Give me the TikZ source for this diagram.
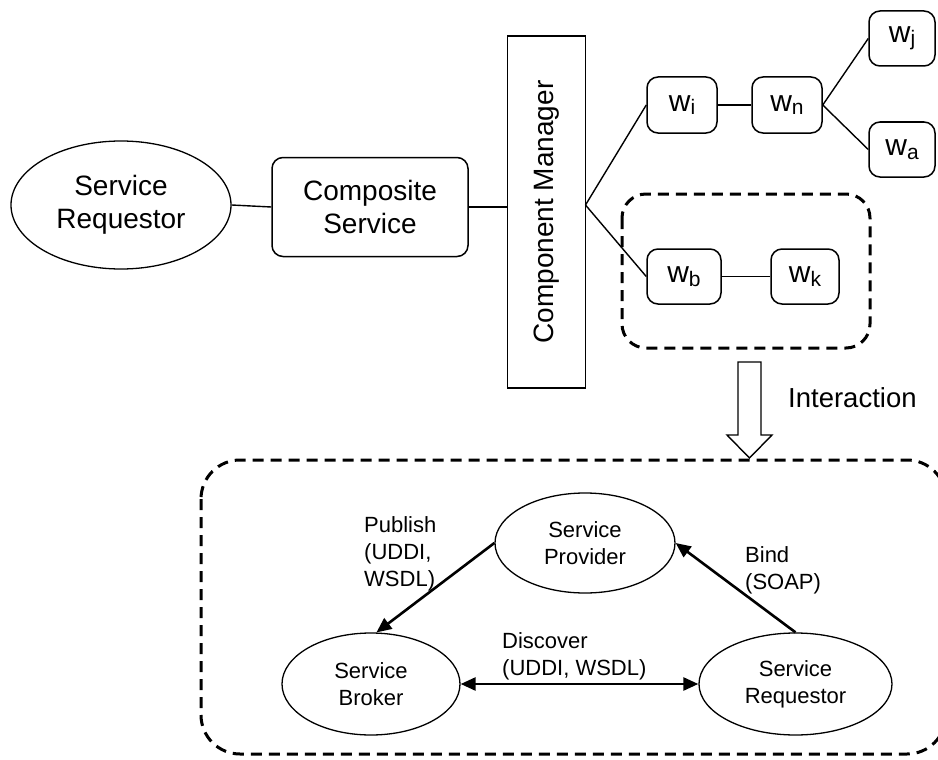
\documentclass[tikz,border=0pt]{standalone}
\usepackage{fontspec}
\setmainfont{Liberation Sans}
\usetikzlibrary{arrows.meta,shapes.geometric}

% w with a lowered subscript, as in the worker boxes
\newcommand{\wlabel}[1]{{\fontsize{30}{30}\selectfont w}\raisebox{-3.5pt}{\fontsize{21}{21}\selectfont #1}}

\tikzset{
  bigtext/.style={font=\fontsize{28}{33}\selectfont, align=center},
  smalltext/.style={font=\fontsize{22}{27}\selectfont},
  oval/.style={draw, ellipse, line width=1.3pt, inner sep=0pt, align=center},
  roundbox/.style={draw, rectangle, rounded corners=11pt, line width=1.5pt, inner sep=0pt},
  wbox/.style={roundbox, minimum height=55pt},
  link/.style={line width=1.4pt},
  group/.style={draw, line width=3pt, dash pattern=on 11pt off 7pt},
  flow/.style={line width=2.6pt, -{Triangle[length=15pt,width=13pt]}},
  flowboth/.style={line width=2.6pt, {Triangle[length=15pt,width=13pt]}-{Triangle[length=15pt,width=13pt]}},
  lbl/.style={smalltext, align=left, inner sep=0pt}
}

\begin{document}
\begin{tikzpicture}[x=1pt,y=-1pt]
\useasboundingbox[fill=white] (0,0) rectangle (938,760);

% --- upper part: requestor, composite service, component manager ---
\node[oval, bigtext, minimum width=220pt, minimum height=128pt] (sreq) at (121,205) {Service\\Requestor};
\node[roundbox, bigtext, minimum width=196pt, minimum height=99pt] (comp) at (370,207) {Composite\\Service};
\node[draw, rectangle, line width=1.6pt, minimum width=78pt, minimum height=352pt, inner sep=0pt] (cm) at (546.5,212) {};
\node[bigtext, rotate=90] (cmtext) at (cm.center) {Component Manager};

\draw[link] (sreq.east) -- (comp.west);
\draw[link] (comp.east) -- (cm.west |- comp.east);

% --- worker services ---
\node[wbox, minimum width=70pt, minimum height=56pt] (wi) at (682,105) {\wlabel{i}};
\node[wbox, minimum width=70pt, minimum height=56pt] (wn) at (787,105) {\wlabel{n}};
\node[wbox, minimum width=66pt] (wj) at (902,38.5) {\wlabel{j}};
\node[wbox, minimum width=66pt] (wa) at (902,149.5) {\wlabel{a}};
\node[wbox, minimum width=74pt] (wb) at (684,276.5) {\wlabel{b}};
\node[wbox, minimum width=68pt] (wk) at (805,276.5) {\wlabel{k}};

\coordinate (cmr) at (585.5,205);
\draw[link] (cmr) -- (wi.west);
\draw[link] (cmr) -- (wb.west);
\draw[link] (wi.east) -- (wn.west);
\draw[link] (wn.east) -- (wj.west);
\draw[link] (wn.east) -- (wa.west);
\draw[link] (wb.east) -- (wk.west);

% group around the interacting pair
\draw[group, rounded corners=24pt] (622,194) rectangle (870,348);

% --- interaction arrow ---
\draw[line width=1.4pt, fill=white] (738,362) -- (761,362) -- (761,435) -- (772,435)
  -- (749.5,458) -- (727,435) -- (738,435) -- cycle;
\node[font=\fontsize{27.5}{30}\selectfont, anchor=west, inner sep=0pt] (inter) at (788,398) {Interaction};

% --- lower part: SOA triangle ---
\draw[group, rounded corners=39pt] (201,460) rectangle (946,754);

\node[oval, smalltext, align=center, minimum width=180pt, minimum height=100pt] (prov) at (585,543) {Service\\Provider};
\node[oval, smalltext, align=center, minimum width=178pt, minimum height=102pt] (brok) at (371,684) {Service\\Broker};
\node[oval, smalltext, align=center, minimum width=193pt, minimum height=102pt] (req) at (795.5,684) {Service\\Requestor};

\draw[flow] (prov.west) -- (brok.84);
\draw[flow] (req.north) -- (prov.east);
\draw[flowboth] (brok.east) -- (req.west);

\node[lbl, anchor=west] (pub) at (364,554) {Publish\\(UDDI,\\WSDL)};
\node[lbl, anchor=west] (bind) at (745,570) {Bind\\(SOAP)};
\node[lbl, anchor=west] (disc) at (502,656) {Discover\\(UDDI, WSDL)};
\end{tikzpicture}
\end{document}
